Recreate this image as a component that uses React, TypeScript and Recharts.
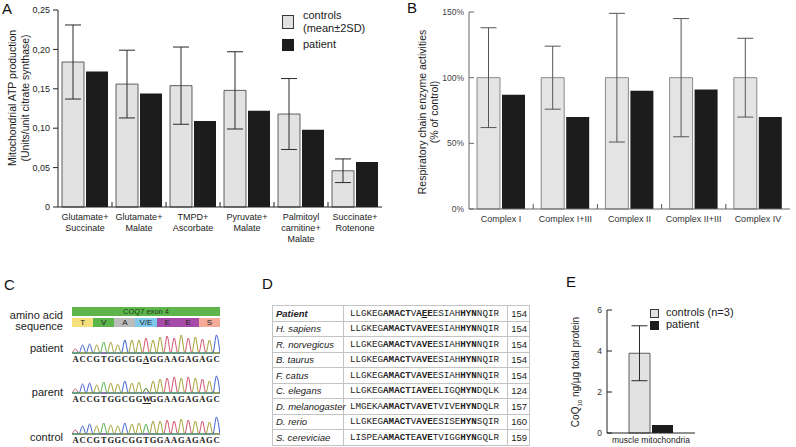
import { BarChart, Bar, XAxis, YAxis, ErrorBar, LineChart, Line } from 'recharts';

// panel A - ATP production
const atpSubstrates = ['Glutamate+\nSuccinate', 'Glutamate+\nMalate', 'TMPD+\nAscorbate', 'Pyruvate+\nMalate', 'Palmitoyl\ncarnitine+\nMalate', 'Succinate+\nRotenone'];
const atpControls = [0.184, 0.156, 0.154, 0.148, 0.118, 0.046];
const atpControls2SD = [0.047, 0.043, 0.049, 0.049, 0.045, 0.015];
const atpPatient = [0.172, 0.144, 0.109, 0.122, 0.098, 0.057];
const atpTicks = [0, 0.05, 0.1, 0.15, 0.2, 0.25];

// panel B - respiratory chain
const complexes = ['Complex I', 'Complex I+III', 'Complex II', 'Complex II+III', 'Complex IV'];
const rcControls = [100, 100, 100, 100, 100];
const rcControlsSD = [38, 24, 49, 45, 30];
const rcPatient = [87, 70, 90, 91, 70];
const rcTicks = [0, 50, 100, 150];

// panel E - CoQ10
const coqSample = ['muscle mitochondria'];
const coqControls = [3.89];
const coqControlsSD = [1.34];
const coqPatient = [0.39];
const coqTicks = [0, 1, 2, 3, 4, 5, 6];

// panel C - sequencing
const aminoAcids = ['T', 'V', 'A', 'V/E', 'E', 'E', 'S'];
const aminoColors = ['#f6e07c', '#5bb54b', '#bcbcbc', '#7fc9ec', '#a64ba7', '#a64ba7', '#f4ab98'];
const patientBases = 'ACCGTGGCGGAGGAAGAGAGC';
const patientPeaks = [4, 8, 9, 8, 11, 11, 8, 13, 13, 13, 15, 13, 16, 17, 15, 18, 15, 16, 14, 13, 18];
const parentBases = 'ACCGTGGCGGWGGAAGAGAGC';
const parentPeaks = [4, 9, 10, 8, 11, 10, 9, 12, 10, 11, 5, 12, 14, 15, 16, 15, 16, 15, 14, 12, 17];
const controlBases = 'ACCGTGGCGGTGGAAGAGAGC';
const controlPeaks = [4, 8, 10, 8, 11, 9, 8, 11, 10, 11, 10, 13, 13, 14, 13, 15, 14, 13, 13, 12, 17];
const baseColors: Record<string, string> = { G: '#a3a032', A: '#d4506c', C: '#3d5fd0', T: '#4cae4f' };

// panel D - alignment
const species = ['Patient', 'H. sapiens', 'R. norvegicus', 'B. taurus', 'F. catus', 'C. elegans', 'D. melanogaster', 'D. rerio', 'S. cereviciae'];
const sequences = [
  'LLGKEGAMACTVAEEESIAHHYNNQIR',
  'LLGKEGAMACTVAVEESIAHHYNNQIR',
  'LLGKEGAMACTVAVEESIAHHYNNQIR',
  'LLGKEGAMACTVAVEESIAHHYNNQIR',
  'LLGKEGAMACTVAVEESIAHHYNNQIR',
  'LLGKEGAMACTIAVEELIGQHYNDQLK',
  'LMGEKAAMACTVAVETVIVEHYNDQLR',
  'LLGKEGAMACTVAVEESISEHYNSQIR',
  'LISPEAAMACTEAVETVIGGHYNGQLR',
];
const positions = [154, 154, 154, 154, 154, 124, 157, 160, 159];
const conserved = [6, 7, 8, 9, 10, 12, 13, 14, 20, 21, 22];

const atpData = atpSubstrates.map((name, i) => ({
  name, controls: atpControls[i], controlsErr: atpControls2SD[i], patient: atpPatient[i],
}));
const rcData = complexes.map((name, i) => ({
  name, controls: rcControls[i], controlsErr: rcControlsSD[i], patient: rcPatient[i],
}));
const coqData = coqSample.map((name, i) => ({
  name, controls: coqControls[i], controlsErr: coqControlsSD[i], patient: coqPatient[i],
}));

function traceRows(bases: string, peaks: number[]) {
  const empty = () => ({ A: 0, C: 0, G: 0, T: 0 } as Record<string, number>);
  const rows: any[] = [{ pos: -0.5, ...empty() }];
  bases.split('').forEach((b, i) => {
    const row: any = { pos: i, ...empty() };
    const channels = b === 'W' ? ['A', 'T'] : [b];
    channels.forEach(c => { row[c] = peaks[i]; });
    rows.push(row, { pos: i + 0.5, ...empty() });
  });
  return rows;
}

const CatTick = (props: any) => {
  const { x, y, payload, index, fontSize, fill, margin, marks, lineH, markColor } = props;
  const axisY = y - margin;
  const half = payload && payload.offset ? payload.offset : 0;
  const lines = String(payload.value).split('\n');
  return (
    <g>
      {marks && index > 0 && half > 0 && (
        <line x1={x - half} x2={x - half} y1={axisY} y2={axisY - 5} stroke={markColor} strokeWidth={1} />
      )}
      <text x={x} y={y} textAnchor="middle" fontSize={fontSize} fill={fill}>
        {lines.map((l, i) => (
          <tspan key={i} x={x} dy={i === 0 ? '0.8em' : lineH}>{l}</tspan>
        ))}
      </text>
    </g>
  );
};

const InTick = (props: any) => {
  const { x, y, payload, margin, fmt, fontSize, fill, stroke } = props;
  const ax = x + margin;
  return (
    <g>
      <line x1={ax} x2={ax + 5} y1={y} y2={y} stroke={stroke} strokeWidth={1} />
      <text x={x} y={y} dy="0.35em" textAnchor="end" fontSize={fontSize} fill={fill}>{fmt(payload.value)}</text>
    </g>
  );
};

const panelLetter = (t: string, left: number, top: number) => (
  <div style={{ position: 'absolute', left, top, fontSize: 15, lineHeight: '15px', color: '#111' }}>{t}</div>
);

const rotLabel = (lines: any[], cx: number, cy: number, fontSize: number, lineH: number, color = '#222') => (
  <div style={{
    position: 'absolute', left: cx, top: cy, transform: 'translate(-50%, -50%) rotate(-90deg)',
    whiteSpace: 'nowrap', textAlign: 'center', fontSize, lineHeight: lineH + 'px', color,
  }}>
    {lines.map((l, i) => <div key={i}>{l}</div>)}
  </div>
);

const Trace = ({ bases, peaks, top, underline }: { bases: string; peaks: number[]; top: number; underline: number }) => (
  <>
    <div style={{ position: 'absolute', left: 72, top }}>
      <LineChart width={148} height={21} data={traceRows(bases, peaks)} margin={{ top: 1, right: 0, bottom: 1, left: 0 }}>
        <XAxis dataKey="pos" type="number" domain={[-0.5, 20.5]} hide />
        <YAxis type="number" domain={[0, 19]} hide />
        {['G', 'A', 'C', 'T'].map(c => (
          <Line key={c} dataKey={c} type="monotone" stroke={baseColors[c]} strokeWidth={1} dot={false} isAnimationActive={false} />
        ))}
      </LineChart>
    </div>
    <div style={{ position: 'absolute', left: 72, top: top + 21, width: 148, display: 'flex', fontFamily: '"Liberation Serif", serif', fontWeight: 'bold', fontSize: 8.5, lineHeight: '10px', color: '#222' }}>
      {bases.split('').map((b, i) => (
        <span key={i} style={{ width: 148 / 21, textAlign: 'center', textDecoration: i === underline ? 'underline' : 'none' }}>{b}</span>
      ))}
    </div>
  </>
);

export default function App() {
  const sideLabel = { position: 'absolute' as const, right: 796 - 63, fontSize: 11, lineHeight: '12px', color: '#222', whiteSpace: 'nowrap' as const };
  const cell = { border: '1px solid #c4c4c4', padding: '0 3px', height: 14.5, whiteSpace: 'nowrap' as const };
  return (
    <div style={{ position: 'absolute', left: 0, top: 0, width: 796, height: 447, background: '#fff', overflow: 'hidden', fontFamily: '"Liberation Sans", Arial, sans-serif' }}>
      {/* A */}
      {panelLetter('A', 2, 1)}
      {rotLabel(['Mitochondrial ATP production', '(Units/unit citrate synthase)'], 19, 98, 10.5, 13)}
      <div style={{ position: 'absolute', left: 0, top: 0 }}>
        <BarChart width={390} height={260} data={atpData} margin={{ top: 10, right: 8, bottom: 0, left: 0 }} barGap={2}>
          <XAxis dataKey="name" height={53} tickLine={false} tickSize={0} tickMargin={6} axisLine={{ stroke: '#222' }} interval={0}
            tick={(p: any) => <CatTick {...p} fontSize={9} fill="#222" margin={6} marks lineH={11} markColor="#222" />} />
          <YAxis width={58} domain={[0, 0.25]} ticks={atpTicks} tickSize={5} tickMargin={3} axisLine={{ stroke: '#222' }} tickLine={{ stroke: '#222' }}
            tick={{ fontSize: 9, fill: '#222' }} tickFormatter={(v: number) => (v === 0 ? '0' : v.toFixed(2).replace('.', ','))} />
          <Bar dataKey="controls" fill="#e2e2e2" stroke="#3a3a3a" strokeWidth={0.8} barSize={22} isAnimationActive={false}>
            <ErrorBar dataKey="controlsErr" width={8} stroke="#2a2a2a" strokeWidth={1} />
          </Bar>
          <Bar dataKey="patient" fill="#1c1c1c" barSize={22} isAnimationActive={false} />
        </BarChart>
      </div>
      <div style={{ position: 'absolute', left: 282, top: 15, width: 10, height: 12, background: '#e2e2e2', border: '1px solid #3a3a3a' }} />
      <div style={{ position: 'absolute', left: 303, top: 9, fontSize: 11, lineHeight: '13px', color: '#222' }}>controls<br />(mean±2SD)</div>
      <div style={{ position: 'absolute', left: 282, top: 39, width: 12, height: 12, background: '#1c1c1c' }} />
      <div style={{ position: 'absolute', left: 303, top: 38, fontSize: 11, lineHeight: '13px', color: '#222' }}>patient</div>

      {/* B */}
      {panelLetter('B', 407, 0)}
      {rotLabel(['Respiratory chain enzyme activities', '(% of control)'], 427.5, 112, 10.5, 11.5)}
      <div style={{ position: 'absolute', left: 400, top: 0 }}>
        <BarChart width={396} height={240} data={rcData} margin={{ top: 12, right: 6, bottom: 0, left: 0 }} barGap={2}>
          <XAxis dataKey="name" height={31} tickLine={false} tickSize={0} tickMargin={6} axisLine={{ stroke: '#666' }} interval={0}
            tick={(p: any) => <CatTick {...p} fontSize={9} fill="#333" margin={6} marks lineH={11} markColor="#555" />} />
          <YAxis width={69} domain={[0, 150]} ticks={rcTicks} tickSize={0} tickMargin={5} axisLine={{ stroke: '#666' }} tickLine={false}
            tick={(p: any) => <InTick {...p} margin={5} fmt={(v: number) => v + '%'} fontSize={8.5} fill="#444" stroke="#666" />} />
          <Bar dataKey="controls" fill="#e4e4e4" stroke="#707070" strokeWidth={0.8} barSize={23} isAnimationActive={false}>
            <ErrorBar dataKey="controlsErr" width={8} stroke="#555" strokeWidth={1} />
          </Bar>
          <Bar dataKey="patient" fill="#1c1c1c" barSize={23} isAnimationActive={false} />
        </BarChart>
      </div>

      {/* C */}
      {panelLetter('C', 4, 277)}
      <div style={{ ...sideLabel, top: 309 }}>amino acid</div>
      <div style={{ ...sideLabel, top: 320 }}>sequence</div>
      <div style={{ position: 'absolute', left: 72, top: 307, width: 148, height: 9, background: '#5db54b', fontSize: 7.5, lineHeight: '9px', textAlign: 'center', color: '#1d3a17' }}>COQ7 exon 4</div>
      <div style={{ position: 'absolute', left: 72, top: 318, width: 148, height: 9, display: 'flex' }}>
        {aminoAcids.map((a, i) => (
          <div key={i} style={{ flex: 1, background: aminoColors[i], fontSize: 8, lineHeight: '9px', textAlign: 'center', color: '#222' }}>{a}</div>
        ))}
      </div>
      <div style={{ ...sideLabel, top: 342 }}>patient</div>
      <Trace bases={patientBases} peaks={patientPeaks} top={333} underline={10} />
      <div style={{ ...sideLabel, top: 386 }}>parent</div>
      <Trace bases={parentBases} peaks={parentPeaks} top={373} underline={10} />
      <div style={{ ...sideLabel, top: 431 }}>control</div>
      <Trace bases={controlBases} peaks={controlPeaks} top={414} underline={-1} />

      {/* D */}
      {panelLetter('D', 262, 276)}
      <table style={{ position: 'absolute', left: 272, top: 305, width: 257, borderCollapse: 'collapse', tableLayout: 'fixed', fontSize: 9.5, color: '#222' }}>
        <colgroup><col style={{ width: 71 }} /><col style={{ width: 164 }} /><col style={{ width: 22 }} /></colgroup>
        <tbody>
          {species.map((s, r) => (
            <tr key={s}>
              <td style={{ ...cell, fontStyle: 'italic', fontWeight: r === 0 ? 'bold' : 'normal' }}>{s}</td>
              <td style={{ ...cell, padding: '0 0 0 6px', fontFamily: '"Liberation Mono", monospace', fontSize: 9.2 }}>
                {sequences[r].split('').map((ch, k) => (
                  <span key={k} style={{ fontWeight: conserved.includes(k) ? 'bold' : 'normal', textDecoration: r === 0 && k === 13 ? 'underline' : 'none' }}>{ch}</span>
                ))}
              </td>
              <td style={{ ...cell, padding: '0 2px', textAlign: 'right' }}>{positions[r]}</td>
            </tr>
          ))}
        </tbody>
      </table>

      {/* E */}
      {panelLetter('E', 566, 274)}
      {rotLabel([<span key="q">CoQ<sub style={{ fontSize: 6 }}>10</sub> ng/µg total protein</span>], 578, 372, 10, 11)}
      <div style={{ position: 'absolute', left: 570, top: 290 }}>
        <BarChart width={126} height={157} data={coqData} margin={{ top: 20, right: 1, bottom: 0, left: 0 }} barGap={2}>
          <XAxis dataKey="name" height={14} tickLine={false} tickSize={0} tickMargin={3} axisLine={{ stroke: '#222' }} interval={0}
            tick={(p: any) => <CatTick {...p} fontSize={8.5} fill="#222" margin={3} marks={false} lineH={10} markColor="#222" />} />
          <YAxis width={37} domain={[0, 6]} ticks={coqTicks} tickSize={0} tickMargin={5} axisLine={{ stroke: '#222' }} tickLine={false}
            tick={(p: any) => <InTick {...p} margin={5} fmt={(v: number) => String(v)} fontSize={8.5} fill="#333" stroke="#222" />} />
          <Bar dataKey="controls" fill="#e2e2e2" stroke="#3a3a3a" strokeWidth={0.8} barSize={21} isAnimationActive={false}>
            <ErrorBar dataKey="controlsErr" width={8} stroke="#2a2a2a" strokeWidth={1} />
          </Bar>
          <Bar dataKey="patient" fill="#1c1c1c" barSize={21} isAnimationActive={false} />
        </BarChart>
      </div>
      <div style={{ position: 'absolute', left: 650, top: 309, width: 7, height: 7, background: '#e2e2e2', border: '1px solid #3a3a3a' }} />
      <div style={{ position: 'absolute', left: 666, top: 306, fontSize: 11, lineHeight: '13px', color: '#222' }}>controls (n=3)</div>
      <div style={{ position: 'absolute', left: 650, top: 321, width: 9, height: 9, background: '#1c1c1c' }} />
      <div style={{ position: 'absolute', left: 666, top: 318, fontSize: 11, lineHeight: '13px', color: '#222' }}>patient</div>
    </div>
  );
}
